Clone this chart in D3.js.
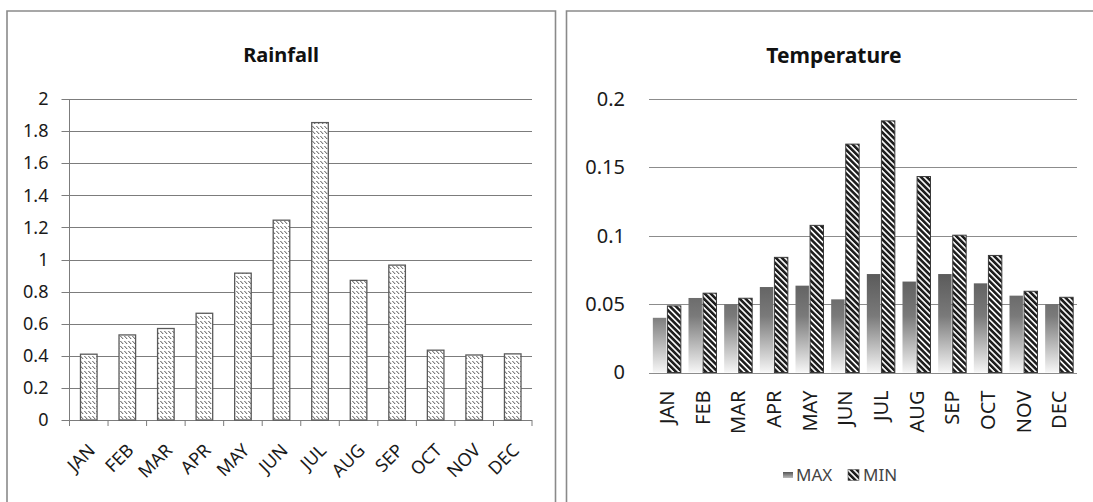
<!DOCTYPE html>
<html>
<head>
<meta charset="utf-8">
<script src="https://cdn.jsdelivr.net/npm/d3@7/dist/d3.min.js"></script>
<style>
  html, body { margin: 0; padding: 0; background: #fff; }
  svg { display: block; font-family: "Noto Sans", "Open Sans", sans-serif; }
</style>
</head>
<body>
<svg id="chart" width="1093" height="502"></svg>
<script>
// Monthly categories shared by both panels
const months = ["JAN", "FEB", "MAR", "APR", "MAY", "JUN", "JUL", "AUG", "SEP", "OCT", "NOV", "DEC"];

// Rainfall panel
const rainfall = [0.41, 0.53, 0.57, 0.665, 0.915, 1.245, 1.853, 0.87, 0.965, 0.435, 0.405, 0.412];
const rainTicks = [0, 0.2, 0.4, 0.6, 0.8, 1, 1.2, 1.4, 1.6, 1.8, 2];
const rainTickLabels = ["0", "0.2", "0.4", "0.6", "0.8", "1", "1.2", "1.4", "1.6", "1.8", "2"];

// Temperature panel
const tempMax = [0.040, 0.0545, 0.050, 0.0625, 0.0635, 0.0535, 0.072, 0.0665, 0.072, 0.0652, 0.0562, 0.050];
const tempMin = [0.0487, 0.058, 0.0543, 0.0842, 0.1076, 0.167, 0.184, 0.1433, 0.1004, 0.0856, 0.0594, 0.055];
const tempSeries = ["MAX", "MIN"];
const tempTicks = [0, 0.05, 0.1, 0.15, 0.2];
const tempTickLabels = ["0", "0.05", "0.1", "0.15", "0.2"];

const svg = d3.select("#chart");
const defs = svg.append("defs");

// Fine dashed-diagonal hatch used for the rainfall bars
const hatch = defs.append("pattern")
  .attr("id", "rainHatch")
  .attr("patternUnits", "userSpaceOnUse")
  .attr("width", 4).attr("height", 5);
hatch.append("rect").attr("width", 4).attr("height", 5).attr("fill", "#fff");
hatch.append("path").attr("d", "M0.4,1 L3.2,4")
  .attr("stroke", "#555").attr("stroke-width", 1);

// Wide dark diagonal stripes for the MIN series
const stripes = defs.append("pattern")
  .attr("id", "minStripes")
  .attr("patternUnits", "userSpaceOnUse")
  .attr("width", 4.2).attr("height", 4.2)
  .attr("patternTransform", "rotate(-45)");
stripes.append("rect").attr("width", 4.2).attr("height", 4.2).attr("fill", "#fff");
stripes.append("rect").attr("width", 2.6).attr("height", 4.2).attr("fill", "#1e1e1e");

// ---------- Panel frames ----------
svg.append("path")
  .attr("d", "M7,520 V11 H555.5 V520")
  .attr("fill", "none").attr("stroke", "#8a8a8a").attr("stroke-width", 1.6);
svg.append("path")
  .attr("d", "M566.5,520 V11 H1100")
  .attr("fill", "none").attr("stroke", "#8a8a8a").attr("stroke-width", 1.6);

// ---------- Rainfall ----------
const L = { left: 69.5, right: 532, top: 99, bottom: 420 };
const xL = d3.scaleBand().domain(months).range([L.left, L.right])
  .paddingInner(0.57).paddingOuter(0.285);
const yL = d3.scaleLinear().domain([0, 2]).range([L.bottom, L.top]);
const gL = svg.append("g");

gL.append("text")
  .attr("x", 281).attr("y", 62)
  .attr("text-anchor", "middle")
  .attr("font-size", 20).attr("font-weight", "bold").attr("fill", "#111")
  .text("Rainfall");

// horizontal gridlines (extend left of the axis as tick marks)
gL.append("g").selectAll("line").data(rainTicks).join("line")
  .attr("x1", L.left - 8).attr("x2", L.right)
  .attr("y1", d => Math.round(yL(d)) + 0.5).attr("y2", d => Math.round(yL(d)) + 0.5)
  .attr("stroke", "#7c7c7c").attr("stroke-width", 1);

// y axis labels
const yAxisL = d3.axisLeft(yL).tickValues(rainTicks)
  .tickFormat((d, i) => rainTickLabels[i]).tickSize(0).tickPadding(21);
gL.append("g").attr("transform", `translate(${L.left},0)`).call(yAxisL)
  .call(g => g.select(".domain").remove())
  .call(g => g.selectAll("text").attr("font-size", 18).attr("fill", "#1a1a1a")
    .attr("font-family", "'Noto Sans', sans-serif"));

// vertical axis line
gL.append("line")
  .attr("x1", L.left).attr("x2", L.left).attr("y1", L.top).attr("y2", L.bottom)
  .attr("stroke", "#7c7c7c");

// category tick marks at band boundaries
const stepL = xL.step();
gL.append("g").selectAll("line").data(d3.range(months.length + 1)).join("line")
  .attr("x1", i => L.left + i * stepL).attr("x2", i => L.left + i * stepL)
  .attr("y1", L.bottom).attr("y2", L.bottom + 6)
  .attr("stroke", "#7c7c7c");

// bars
gL.append("g").selectAll("rect").data(months).join("rect")
  .attr("x", d => xL(d))
  .attr("y", (d, i) => yL(rainfall[i]))
  .attr("width", xL.bandwidth())
  .attr("height", (d, i) => yL(0) - yL(rainfall[i]))
  .attr("fill", "url(#rainHatch)")
  .attr("stroke", "#5a5a5a").attr("stroke-width", 1.3);

// rotated month labels
gL.append("g").selectAll("text").data(months).join("text")
  .attr("transform", d => `translate(${xL(d) + xL.bandwidth() / 2 + 3},${L.bottom + 27}) rotate(-45)`)
  .attr("text-anchor", "end")
  .attr("dy", "0.35em")
  .attr("font-size", 18).attr("fill", "#1a1a1a")
  .text(d => d);

// ---------- Temperature ----------
const R = { left: 649, right: 1077, top: 99, bottom: 372.5 };
const xR = d3.scaleBand().domain(months).range([R.left, R.right])
  .paddingInner(0.215).paddingOuter(0.1075);
const xSub = d3.scaleBand().domain(tempSeries).range([0, xR.bandwidth()]).paddingInner(0.08);
const yR = d3.scaleLinear().domain([0, 0.2]).range([R.bottom, R.top]);
const gR = svg.append("g");

// vertical shading for MAX bars, dark at the top and fading toward the baseline
const grad = defs.append("linearGradient")
  .attr("id", "maxFade")
  .attr("gradientUnits", "userSpaceOnUse")
  .attr("x1", 0).attr("x2", 0)
  .attr("y1", yR(0.075)).attr("y2", yR(0));
grad.append("stop").attr("offset", 0).attr("stop-color", "#585858");
grad.append("stop").attr("offset", 0.45).attr("stop-color", "#7a7a7a");
grad.append("stop").attr("offset", 1).attr("stop-color", "#f6f6f6");

const legendGrad = defs.append("linearGradient")
  .attr("id", "maxFadeLegend").attr("x1", 0).attr("x2", 0).attr("y1", 0).attr("y2", 1);
legendGrad.append("stop").attr("offset", 0).attr("stop-color", "#555");
legendGrad.append("stop").attr("offset", 1).attr("stop-color", "#bbb");

gR.append("text")
  .attr("x", 834).attr("y", 63)
  .attr("text-anchor", "middle")
  .attr("font-size", 21).attr("font-weight", "bold").attr("fill", "#111")
  .text("Temperature");

// gridlines incl. baseline
gR.append("g").selectAll("line").data(tempTicks).join("line")
  .attr("x1", R.left).attr("x2", R.right)
  .attr("y1", d => Math.round(yR(d)) + 0.5).attr("y2", d => Math.round(yR(d)) + 0.5)
  .attr("stroke", "#8c8c8c").attr("stroke-width", 1);

const yAxisR = d3.axisLeft(yR).tickValues(tempTicks)
  .tickFormat((d, i) => tempTickLabels[i]).tickSize(0).tickPadding(24);
gR.append("g").attr("transform", `translate(${R.left},0)`).call(yAxisR)
  .call(g => g.select(".domain").remove())
  .call(g => g.selectAll("text").attr("font-size", 20).attr("fill", "#1a1a1a")
    .attr("font-family", "'Noto Sans', sans-serif"));

// grouped bars
const groups = gR.append("g").selectAll("g").data(months).join("g")
  .attr("transform", d => `translate(${xR(d)},0)`);
groups.append("rect")
  .attr("x", xSub("MAX"))
  .attr("y", (d, i) => yR(tempMax[i]))
  .attr("width", xSub.bandwidth())
  .attr("height", (d, i) => yR(0) - yR(tempMax[i]))
  .attr("fill", "url(#maxFade)");
groups.append("rect")
  .attr("x", xSub("MIN"))
  .attr("y", (d, i) => yR(tempMin[i]))
  .attr("width", xSub.bandwidth())
  .attr("height", (d, i) => yR(0) - yR(tempMin[i]))
  .attr("fill", "url(#minStripes)")
  .attr("stroke", "#3a3a3a").attr("stroke-width", 1);

// vertical month labels
gR.append("g").selectAll("text").data(months).join("text")
  .attr("transform", d => `translate(${xR(d) + xR.bandwidth() / 2},${R.bottom + 18}) rotate(-90)`)
  .attr("text-anchor", "end")
  .attr("dy", "0.36em")
  .attr("font-size", 20).attr("fill", "#1a1a1a")
  .text(d => d);

// legend
const lg = gR.append("g").attr("transform", "translate(783,475)");
lg.append("rect").attr("x", 0).attr("y", -3).attr("width", 10).attr("height", 6)
  .attr("fill", "url(#maxFadeLegend)");
lg.append("text").attr("x", 13).attr("y", 0).attr("dy", "0.36em")
  .attr("font-size", 17).attr("fill", "#444").text(tempSeries[0]);
lg.append("rect").attr("x", 65).attr("y", -5.5).attr("width", 11).attr("height", 11)
  .attr("fill", "url(#minStripes)").attr("stroke", "#555").attr("stroke-width", 0.6);
lg.append("text").attr("x", 80).attr("y", 0).attr("dy", "0.36em")
  .attr("font-size", 17).attr("fill", "#444").text(tempSeries[1]);
</script>
</body>
</html>
